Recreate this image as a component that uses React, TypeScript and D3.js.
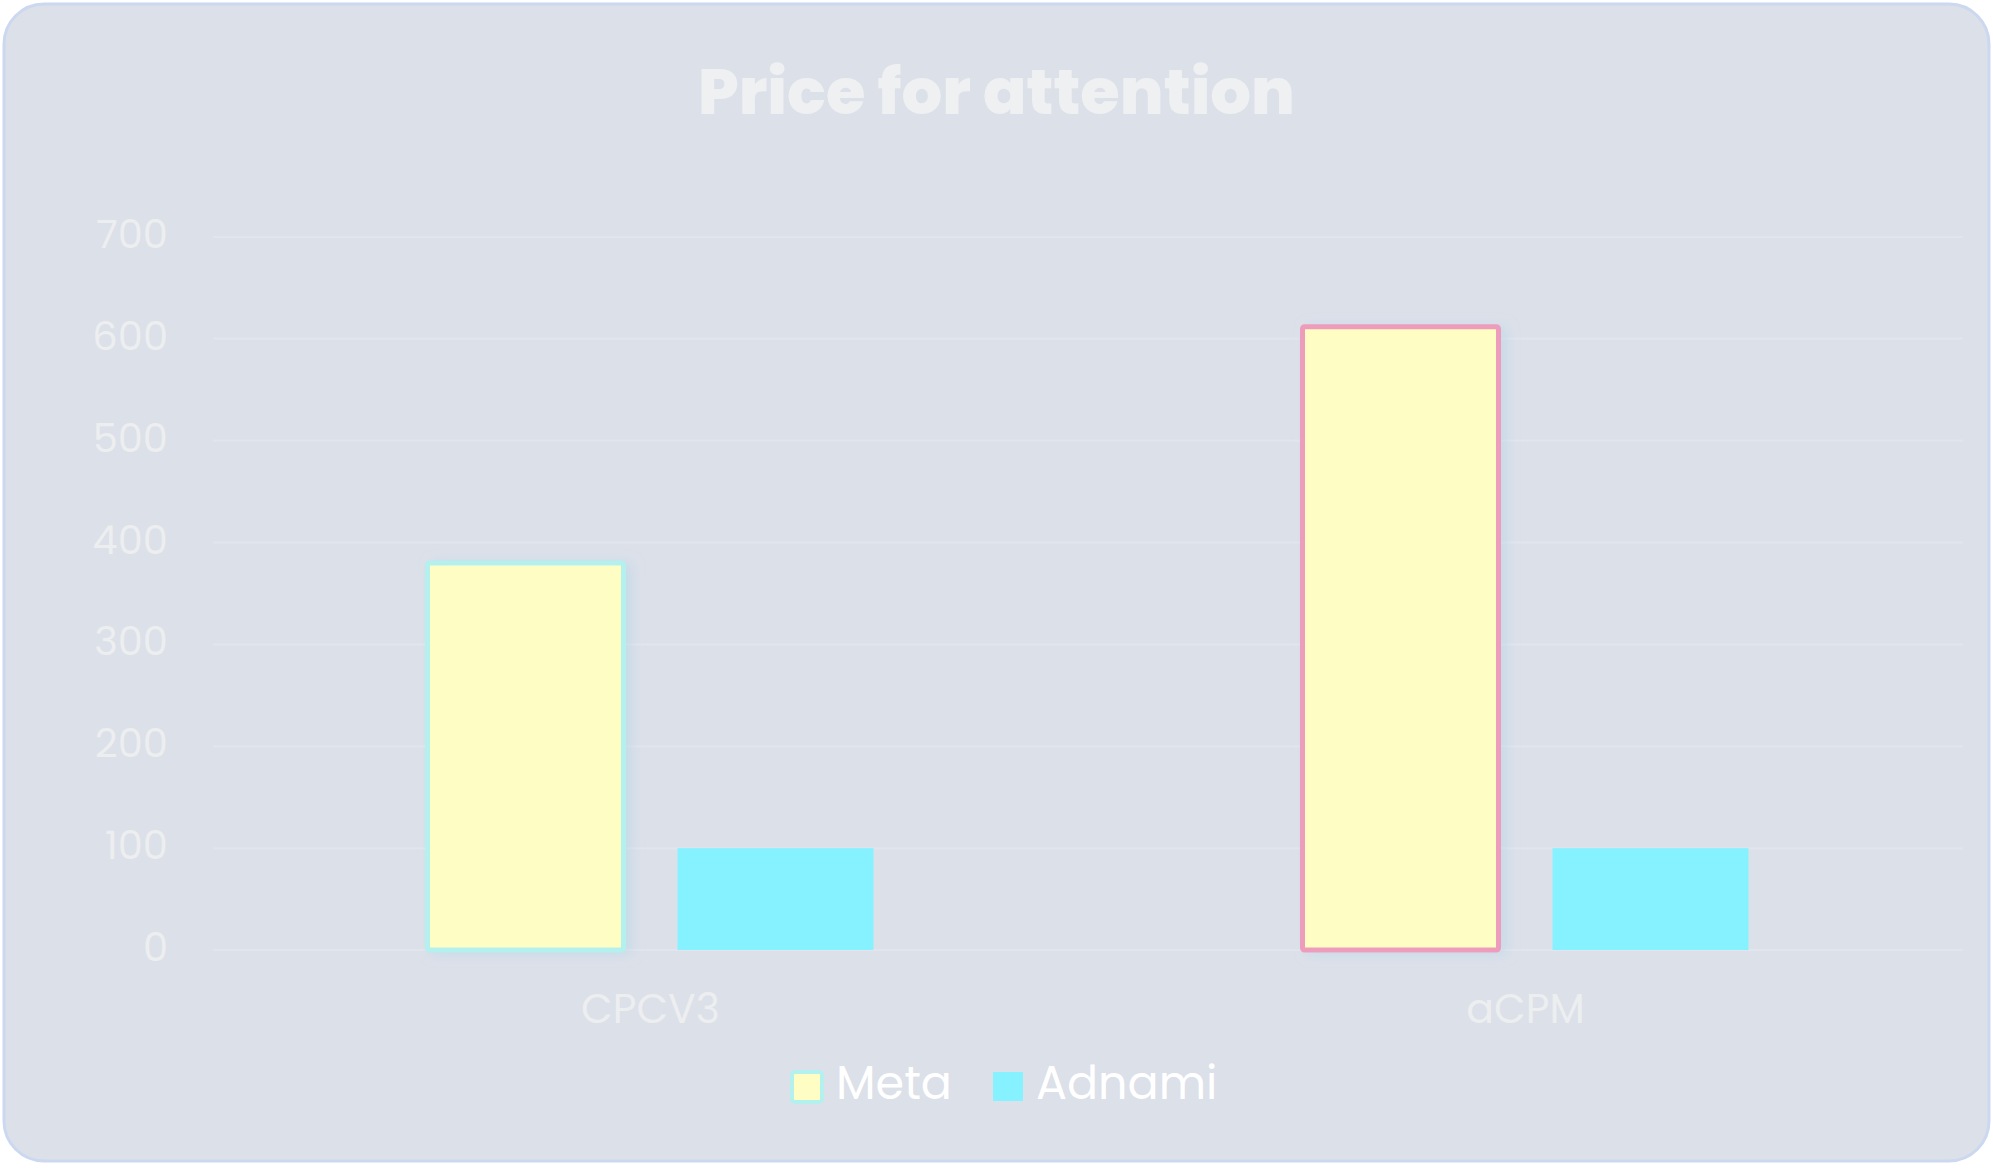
import { useEffect, useRef } from 'react';
import * as d3 from 'd3';

const categories = ['CPCV3', 'aCPM'];
const seriesNames = ['Meta', 'Adnami'];
const metaValues = [380, 612];
const adnamiValues = [100, 100];
const yTicks = [0, 100, 200, 300, 400, 500, 600, 700];

const WIDTH = 1993;
const HEIGHT = 1168;
const FONT = 'Poppins, Inter, "Open Sans", sans-serif';

export default function App() {
  const svgRef = useRef<SVGSVGElement>(null);

  useEffect(() => {
    if (!svgRef.current) return;
    const svg = d3.select(svgRef.current);
    svg.selectAll('*').remove();

    const plot = { left: 213, right: 1963, top: 237, bottom: 950 };

    // card
    svg
      .append('rect')
      .attr('x', 4)
      .attr('y', 4)
      .attr('width', WIDTH - 8)
      .attr('height', HEIGHT - 11)
      .attr('rx', 40)
      .attr('fill', '#dce0e9')
      .attr('stroke', '#cbd8f0')
      .attr('stroke-width', 3);

    const defs = svg.append('defs');
    const glow = defs
      .append('filter')
      .attr('id', 'glow')
      .attr('x', '-20%')
      .attr('y', '-10%')
      .attr('width', '140%')
      .attr('height', '120%');
    glow
      .append('feDropShadow')
      .attr('dx', 6)
      .attr('dy', 2)
      .attr('stdDeviation', 6)
      .attr('flood-color', '#b9d8e8')
      .attr('flood-opacity', 0.6);

    svg
      .append('text')
      .attr('x', WIDTH / 2)
      .attr('y', 114)
      .attr('text-anchor', 'middle')
      .attr('font-family', FONT)
      .attr('font-weight', 800)
      .attr('font-size', 64)
      .attr('fill', '#eff0f2')
      .text('Price for attention');

    const y = d3.scaleLinear().domain([0, 700]).range([plot.bottom, plot.top]);
    const x0 = d3
      .scaleBand()
      .domain(categories)
      .range([plot.left, plot.right])
      .padding(0);
    const x1 = d3
      .scaleBand()
      .domain(seriesNames)
      .range([0, x0.bandwidth()])
      .paddingInner(0.216)
      .paddingOuter(0.858);

    const g = svg.append('g');

    g.selectAll('line.grid')
      .data(yTicks)
      .enter()
      .append('line')
      .attr('class', 'grid')
      .attr('x1', plot.left)
      .attr('x2', plot.right)
      .attr('y1', (d) => y(d))
      .attr('y2', (d) => y(d))
      .attr('stroke', '#e2e5ed')
      .attr('stroke-width', 2);

    g.selectAll('text.ytick')
      .data(yTicks)
      .enter()
      .append('text')
      .attr('class', 'ytick')
      .attr('x', 168)
      .attr('y', (d) => y(d) + 11)
      .attr('text-anchor', 'end')
      .attr('font-family', FONT)
      .attr('font-size', 40)
      .attr('fill', '#eceef0')
      .text((d) => d);

    g.selectAll('text.xtick')
      .data(categories)
      .enter()
      .append('text')
      .attr('class', 'xtick')
      .attr('x', (d) => x0(d)! + x0.bandwidth() / 2)
      .attr('y', 1023)
      .attr('text-anchor', 'middle')
      .attr('font-family', FONT)
      .attr('font-size', 41)
      .attr('fill', '#eceef0')
      .text((d) => d);

    const metaBorders = ['#b3f0ee', '#ee9cbb'];
    const sw = 5;

    // Meta bars, border centred on the bar edge
    g.selectAll('rect.meta')
      .data(metaValues)
      .enter()
      .append('rect')
      .attr('class', 'meta')
      .attr('x', (_, i) => x0(categories[i])! + x1('Meta')!)
      .attr('y', (d) => y(d))
      .attr('width', x1.bandwidth())
      .attr('height', (d) => y(0) - y(d))
      .attr('rx', 2)
      .attr('fill', '#fefec4')
      .attr('stroke', (_, i) => metaBorders[i])
      .attr('stroke-width', sw)
      .attr('filter', 'url(#glow)');

    g.selectAll('rect.adnami')
      .data(adnamiValues)
      .enter()
      .append('rect')
      .attr('class', 'adnami')
      .attr('x', (_, i) => x0(categories[i])! + x1('Adnami')!)
      .attr('y', (d) => y(d))
      .attr('width', x1.bandwidth())
      .attr('height', (d) => y(0) - y(d))
      .attr('fill', '#86f2ff');

    // legend
    const legend = svg.append('g');
    legend
      .append('rect')
      .attr('x', 792)
      .attr('y', 1072)
      .attr('width', 30)
      .attr('height', 30)
      .attr('rx', 3)
      .attr('fill', '#fefec4')
      .attr('stroke', metaBorders[0])
      .attr('stroke-width', 4);
    legend
      .append('rect')
      .attr('x', 993)
      .attr('y', 1072)
      .attr('width', 30)
      .attr('height', 29)
      .attr('fill', '#86f2ff');
    legend
      .selectAll('text')
      .data(seriesNames)
      .enter()
      .append('text')
      .attr('x', (_, i) => (i === 0 ? 836 : 1036))
      .attr('y', 1099)
      .attr('font-family', FONT)
      .attr('font-size', 46)
      .attr('fill', '#ffffff')
      .text((d) => d);
  }, []);

  return (
    <div style={{ position: 'absolute', left: 0, top: 0, background: '#ffffff' }}>
      <svg ref={svgRef} width={WIDTH} height={HEIGHT} style={{ display: 'block' }} />
    </div>
  );
}
